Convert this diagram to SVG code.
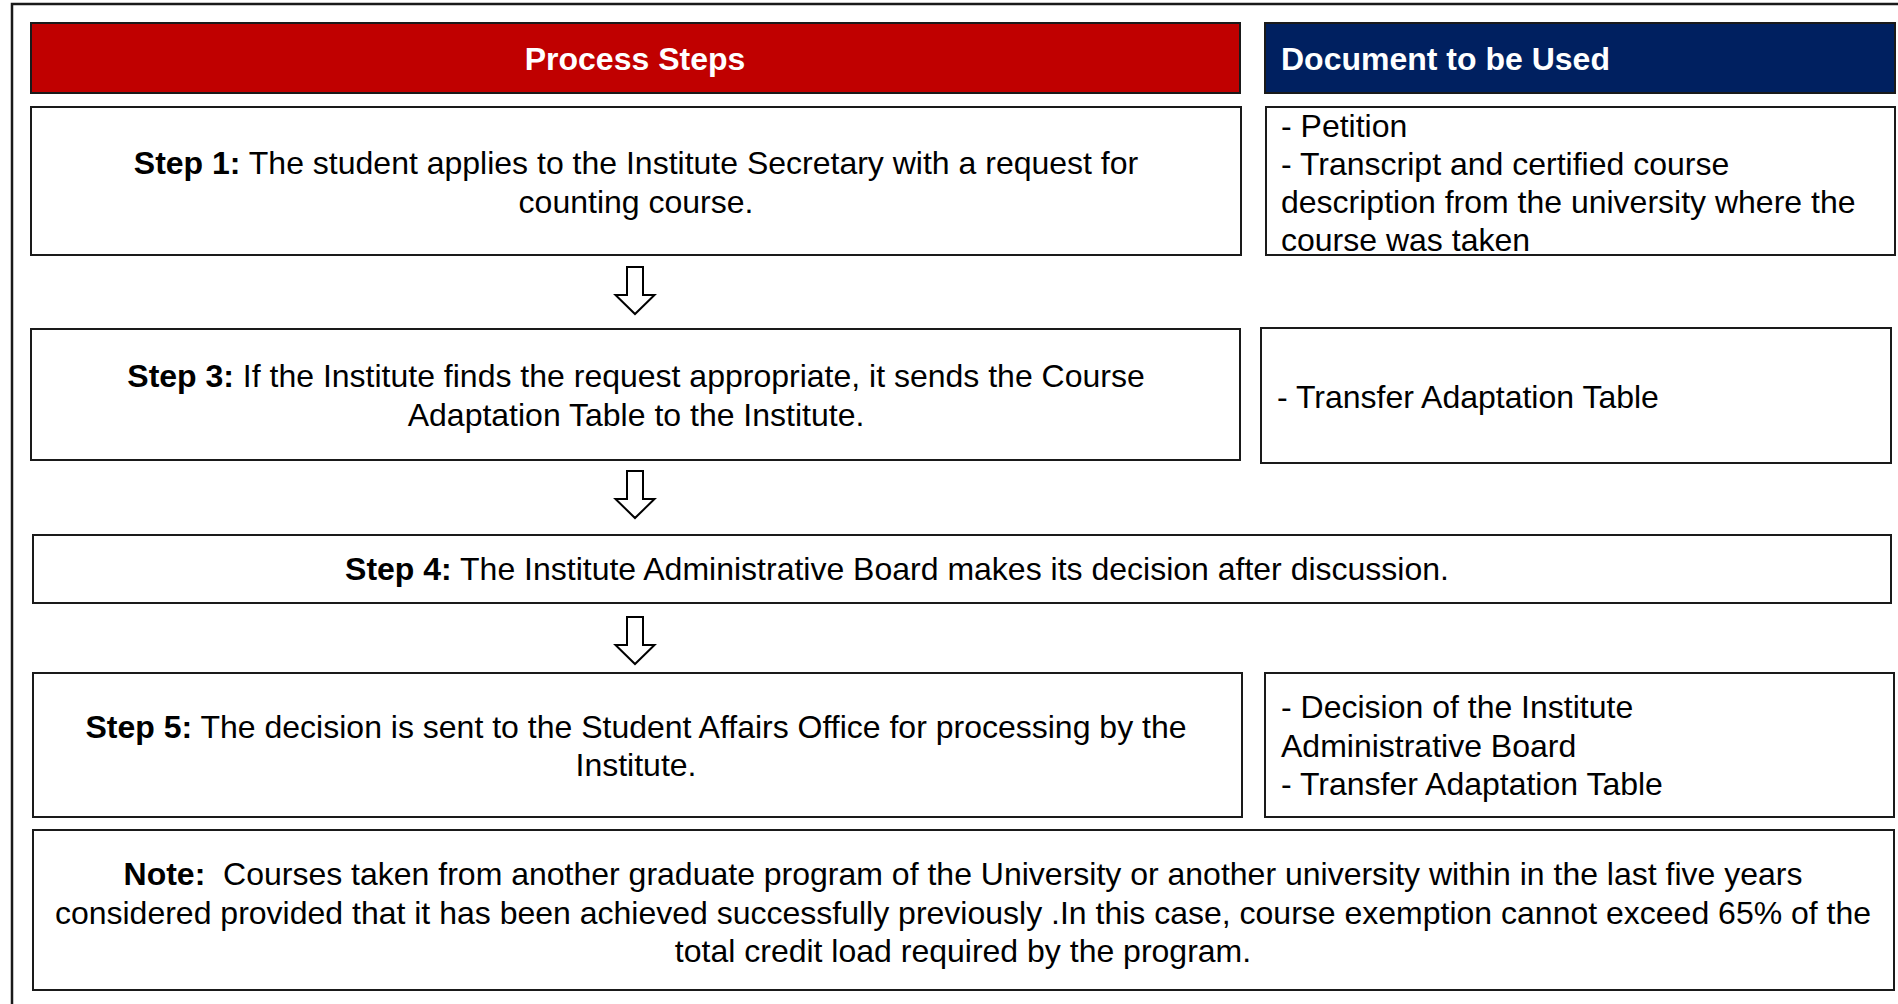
<svg xmlns="http://www.w3.org/2000/svg" width="1898" height="1004" viewBox="0 0 1898 1004">
  <style>
    text { font-family: "Liberation Sans", Arial, sans-serif; font-size: 32px; fill: #000; }
    .hd { font-weight: bold; fill: #fff; }
    .b { font-weight: bold; }
    .box { fill: #fff; stroke: #1a1a1a; stroke-width: 2; }
    .red { fill: #c00000; stroke: #1a1a1a; stroke-width: 2; }
    .blue { fill: #002060; stroke: #1a1a1a; stroke-width: 2; }
    .mid { text-anchor: middle; }
    .arrow { fill: #fff; stroke: #000; stroke-width: 2; stroke-linejoin: miter; }
  </style>
  <defs>
    <!-- hollow block arrow pointing down, origin at top centre of the shaft -->
    <polygon id="downArrow" points="-8,0 8,0 8,28 19.5,28 0,47 -19.5,28 -8,28"/>
  </defs>

  <rect width="1898" height="1004" fill="#fff"/>
  <!-- outer frame -->
  <rect x="12" y="4" width="1900" height="1010" fill="none" stroke="#1a1a1a" stroke-width="2.5"/>

  <g id="header-process">
    <rect class="red" x="31" y="23" width="1209" height="70"/>
    <text class="hd mid" x="635" y="70">Process Steps</text>
  </g>
  <g id="header-document">
    <rect class="blue" x="1265" y="23" width="630" height="70"/>
    <text class="hd" x="1281" y="70">Document to be Used</text>
  </g>

  <g id="step1">
    <rect class="box" x="31" y="107" width="1210" height="148"/>
    <text class="mid" x="636" y="174"><tspan class="b">Step 1:</tspan> The student applies to the Institute Secretary with a request for</text>
    <text class="mid" x="636" y="213">counting course.</text>
  </g>
  <g id="doc1">
    <rect class="box" x="1266" y="107" width="629" height="148"/>
    <text x="1281" y="137">- Petition</text>
    <text x="1281" y="175">- Transcript and certified course</text>
    <text x="1281" y="213">description from the university where the</text>
    <text x="1281" y="251">course was taken</text>
  </g>

  <g id="step3">
    <rect class="box" x="31" y="329" width="1209" height="131"/>
    <text class="mid" x="636" y="387"><tspan class="b">Step 3:</tspan> If the Institute finds the request appropriate, it sends the Course</text>
    <text class="mid" x="636" y="426">Adaptation Table to the Institute.</text>
  </g>
  <g id="doc3">
    <rect class="box" x="1261" y="328" width="630" height="135"/>
    <text x="1277" y="408">- Transfer Adaptation Table</text>
  </g>

  <g id="step4">
    <rect class="box" x="33" y="535" width="1858" height="68"/>
    <text class="mid" x="897" y="580"><tspan class="b">Step 4:</tspan> The Institute Administrative Board makes its decision after discussion.</text>
  </g>

  <g id="step5">
    <rect class="box" x="33" y="673" width="1209" height="144"/>
    <text class="mid" x="636" y="738"><tspan class="b">Step 5:</tspan> The decision is sent to the Student Affairs Office for processing by the</text>
    <text class="mid" x="636" y="776">Institute.</text>
  </g>
  <g id="doc5">
    <rect class="box" x="1265" y="673" width="629" height="144"/>
    <text x="1281" y="718">- Decision of the Institute</text>
    <text x="1281" y="757">Administrative Board</text>
    <text x="1281" y="795">- Transfer Adaptation Table</text>
  </g>

  <g id="note">
    <rect class="box" x="33" y="830" width="1861" height="160"/>
    <text class="mid" x="963" y="885" xml:space="preserve"><tspan class="b">Note:</tspan>  Courses taken from another graduate program of the University or another university within in the last five years</text>
    <text class="mid" x="963" y="924">considered provided that it has been achieved successfully previously .In this case, course exemption cannot exceed 65% of the</text>
    <text class="mid" x="963" y="962">total credit load required by the program.</text>
  </g>

  <g id="connectors">
    <use href="#downArrow" class="arrow" x="635" y="267"/>
    <use href="#downArrow" class="arrow" x="635" y="471"/>
    <use href="#downArrow" class="arrow" x="635" y="617"/>
  </g>
</svg>
